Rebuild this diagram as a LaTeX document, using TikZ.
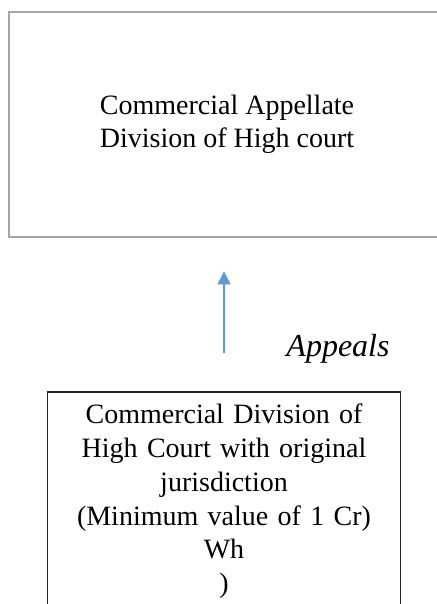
\documentclass[tikz,border=0pt]{standalone}
\usepackage{fontspec}
\setmainfont{Liberation Serif}
\usetikzlibrary{positioning,arrows.meta}
\definecolor{boxgray}{RGB}{165,165,165}
\definecolor{arrowblue}{RGB}{91,155,213}

\begin{document}
\begin{tikzpicture}[every node/.style={font=\fontsize{14}{16.6}\selectfont}]
\useasboundingbox (0,0) rectangle (218pt,302pt);
% Courts
\node[draw=boxgray, line width=1.4pt, rectangle, minimum width=218pt, minimum height=112.5pt, align=center] (appellate) at (113.5pt,239.75pt) {Commercial Appellate\\Division of High court};
\node[draw=black!85, line width=0.6pt, rectangle, text width=169.7pt, align=center, inner ysep=6pt, text depth=112pt, font=\fontsize{14}{16.9}\selectfont, below=76.5pt of appellate, xshift=-1.5pt] (original) {Commercial Division of\\High Court with original\\jurisdiction\\(Minimum value of 1 Cr)\\Wh\\)};

% Arrow
\draw[-{Triangle[width=6.5pt,length=6.5pt]}, draw=arrowblue, fill=arrowblue, line width=0.7pt, shorten <=19pt, shorten >=16.5pt] (original.north) -- (original.north |- appellate.south);
\node[anchor=base, font=\fontsize{16}{19}\selectfont\itshape] (appeals) at (169pt,123.5pt) {Appeals};
\end{tikzpicture}
\end{document}
